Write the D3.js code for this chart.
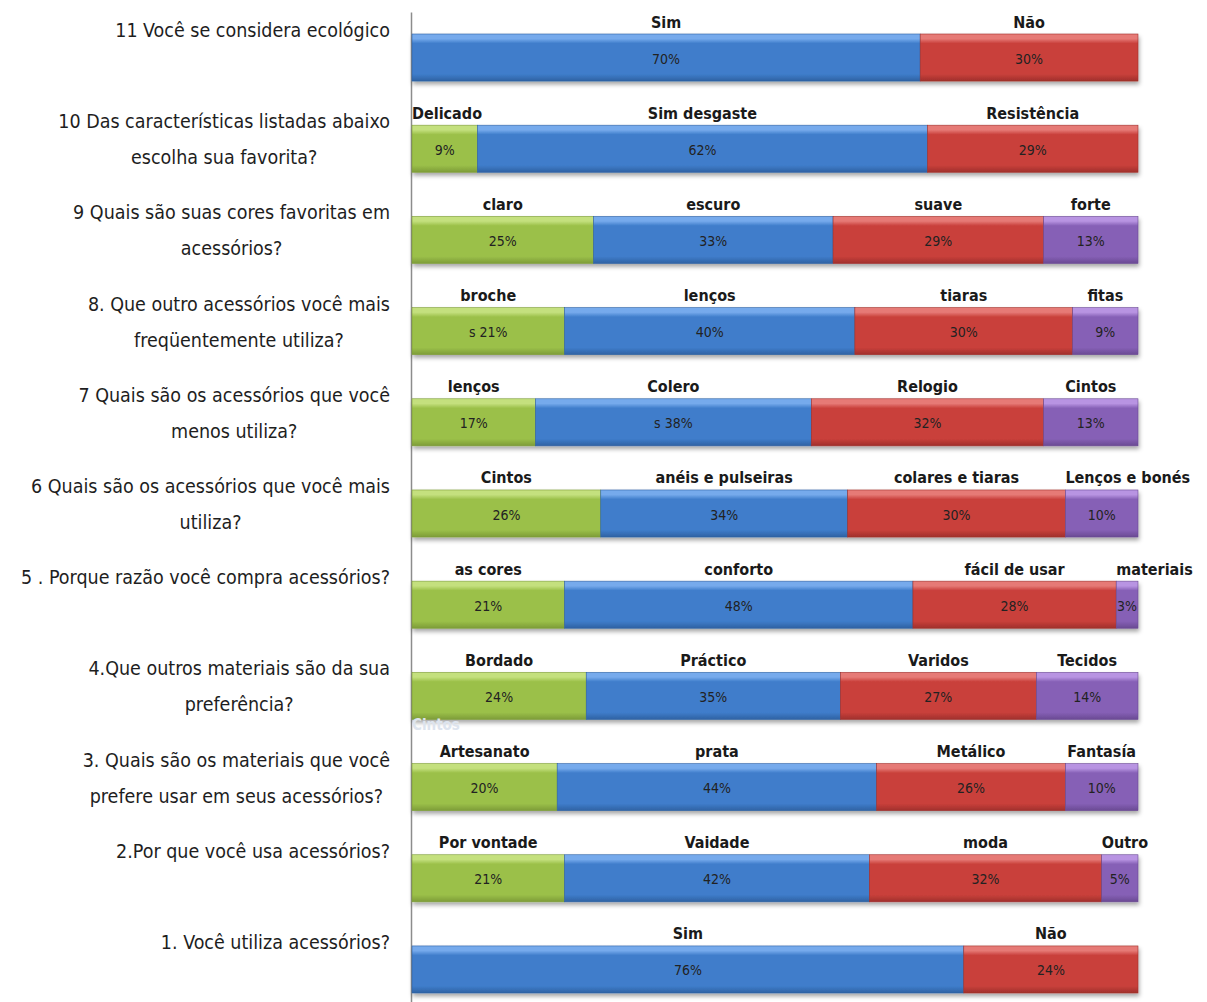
<!DOCTYPE html>
<html>
<head>
<meta charset="utf-8">
<script src="https://cdn.jsdelivr.net/npm/d3@7"></script>
<style>
  body { margin: 0; background: #fff; }
  svg { display: block; }
</style>
</head>
<body>
<div id="chart"></div>
<script>
// Questions, top to bottom
var questions = [
    ['11 Você se considera ecológico'],
    ['10 Das características listadas abaixo', 'escolha sua favorita?'],
    ['9 Quais são suas cores favoritas em', 'acessórios?'],
    ['8. Que outro acessórios  você mais', 'freqüentemente utiliza?'],
    ['7 Quais são os acessórios que você', 'menos utiliza?'],
    ['6 Quais são os acessórios que você mais', 'utiliza?'],
    ['5 . Porque razão você compra acessórios?'],
    ['4.Que outros materiais são da sua', 'preferência?'],
    ['3. Quais são os materiais que você', 'prefere usar em seus acessórios?'],
    ['2.Por que você usa acessórios?'],
    ['1. Você utiliza acessórios?']
];

// Series values (%) per question
var greenValues  = [null, 9, 25, 21, 17, 26, 21, 24, 20, 21, null];
var blueValues   = [70, 62, 33, 40, 38, 34, 48, 35, 44, 42, 76];
var redValues    = [30, 29, 29, 30, 32, 30, 28, 27, 26, 32, 24];
var purpleValues = [null, null, 13, 9, 13, 10, 3, 14, 10, 5, null];

// Answer names shown above each segment
var greenNames  = [null, 'Delicado', 'claro', 'broche', 'lenços', 'Cintos', 'as cores', 'Bordado', 'Artesanato', 'Por vontade', null];
var blueNames   = ['Sim', 'Sim desgaste', 'escuro', 'lenços', 'Colero', 'anéis e pulseiras', 'conforto', 'Práctico', 'prata', 'Vaidade', 'Sim'];
var redNames    = ['Não', 'Resistência', 'suave', 'tiaras', 'Relogio', 'colares e tiaras', 'fácil de usar', 'Varidos', 'Metálico', 'moda', 'Não'];
var purpleNames = [null, null, 'forte', 'fitas', 'Cintos', 'Lenços e bonés', 'materiais', 'Tecidos', 'Fantasía', 'Outro', null];

// Stray text left in the original slide
var strayPrefix = [null, null, null, 's  ', null, null, null, null, null, null, null];
var strayPrefixBlue = [null, null, null, null, 's ', null, null, null, null, null, null];

var width = 1207, height = 1002;
var condensed = '"Liberation Sans Narrow", "DejaVu Sans Condensed", "Arial Narrow", sans-serif';

var series = [
    {key: 'green',  values: greenValues,  names: greenNames,  base: '#9bc049', light: '#c4e07e', dark: '#7d9c38'},
    {key: 'blue',   values: blueValues,   names: blueNames,   base: '#3f7dcb', light: '#76aaec', dark: '#2f62a3'},
    {key: 'red',    values: redValues,    names: redNames,    base: '#c9403b', light: '#e67a76', dark: '#a0302c'},
    {key: 'purple', values: purpleValues, names: purpleNames, base: '#8660b6', light: '#b894e2', dark: '#6a4a93'}
];

var rows = d3.range(questions.length);

// Scales
var x = d3.scaleLinear().domain([0, 100]).range([412, 1138]);
var y = d3.scaleBand().domain(rows).range([34, 993]).paddingInner(0.484).paddingOuter(0);

var svg = d3.select('#chart').append('svg')
    .attr('width', width)
    .attr('height', height);

var defs = svg.append('defs');

// Bevel-like gradients
series.forEach(function(s) {
    var g = defs.append('linearGradient')
        .attr('id', 'grad-' + s.key)
        .attr('x1', 0).attr('x2', 0).attr('y1', 0).attr('y2', 1);
    g.append('stop').attr('offset', '0%').attr('stop-color', s.light);
    g.append('stop').attr('offset', '10%').attr('stop-color', s.light);
    g.append('stop').attr('offset', '20%').attr('stop-color', s.base);
    g.append('stop').attr('offset', '85%').attr('stop-color', s.base);
    g.append('stop').attr('offset', '100%').attr('stop-color', s.dark);
});

var shadow = defs.append('filter')
    .attr('id', 'shadow')
    .attr('x', '-5%').attr('y', '-20%').attr('width', '110%').attr('height', '160%');
shadow.append('feDropShadow')
    .attr('dx', 1).attr('dy', 3)
    .attr('stdDeviation', 2)
    .attr('flood-color', '#000')
    .attr('flood-opacity', 0.35);

// Build stacked segments
var segments = [];
rows.forEach(function(r) {
    var acc = 0;
    series.forEach(function(s) {
        var v = s.values[r];
        if (v == null) return;
        segments.push({row: r, series: s, x0: acc, x1: acc + v, value: v, name: s.names[r]});
        acc += v;
    });
});

// Y axis line (no ticks)
svg.append('g')
    .attr('transform', 'translate(' + (x(0) - 1) + ',0)')
    .call(d3.axisLeft(d3.scaleLinear().range([12, 1002])).ticks(0).tickSizeOuter(0))
    .select('.domain')
    .attr('stroke', '#8c8c8c')
    .attr('stroke-width', 1.5);

// Bars
var rowGroups = svg.append('g').selectAll('g.row')
    .data(rows)
    .enter()
    .append('g')
    .attr('class', 'row')
    .attr('filter', 'url(#shadow)');

rowGroups.selectAll('rect')
    .data(function(r) { return segments.filter(function(d) { return d.row === r; }); })
    .enter()
    .append('rect')
    .attr('x', function(d) { return x(d.x0); })
    .attr('y', function(d) { return y(d.row); })
    .attr('width', function(d) { return x(d.x1) - x(d.x0); })
    .attr('height', y.bandwidth())
    .attr('fill', function(d) { return 'url(#grad-' + d.series.key + ')'; })
    .attr('stroke', function(d) { return d.series.dark; })
    .attr('stroke-width', 0.6);

// Percent labels inside bars
svg.append('g').selectAll('text')
    .data(segments)
    .enter()
    .append('text')
    .attr('x', function(d) { return (x(d.x0) + x(d.x1)) / 2; })
    .attr('y', function(d) { return y(d.row) + y.bandwidth() / 2 + 1; })
    .attr('text-anchor', 'middle')
    .attr('dominant-baseline', 'central')
    .style('font-family', condensed)
    .style('font-size', '14px')
    .attr('fill', '#222')
    .text(function(d) {
        var pre = '';
        if (d.series.key === 'green' && strayPrefix[d.row]) pre = strayPrefix[d.row];
        if (d.series.key === 'blue' && strayPrefixBlue[d.row]) pre = strayPrefixBlue[d.row];
        return pre + d.value + '%';
    });

// Answer names above segments
var names = svg.append('g').selectAll('text')
    .data(segments)
    .enter()
    .append('text')
    .attr('y', function(d) { return y(d.row) - 12; })
    .attr('text-anchor', 'middle')
    .attr('dominant-baseline', 'central')
    .style('font-family', condensed)
    .style('font-size', '16px')
    .style('font-weight', 'bold')
    .attr('fill', '#1a1a1a')
    .text(function(d) { return d.name; });

// Keep short segments' labels from spilling left of their segment
names.attr('x', function(d) {
    var w = this.getComputedTextLength();
    var c = (x(d.x0) + x(d.x1)) / 2;
    return Math.max(c, x(d.x0) + w / 2);
});

// Question labels on the left
var qLabels = svg.append('g').selectAll('text')
    .data(rows)
    .enter()
    .append('text')
    .attr('text-anchor', 'end')
    .style('font-family', condensed)
    .style('font-size', '19.5px')
    .attr('fill', '#1e1e1e');

qLabels.each(function(r) {
    var t = d3.select(this);
    var cy = y(r) + y.bandwidth() / 2;
    questions[r].forEach(function(line, i) {
        t.append('tspan')
            .attr('x', 390)
            .attr('y', cy - 27 + i * 36)
            .attr('dominant-baseline', 'central')
            .attr('text-anchor', i === 0 ? 'end' : 'middle')
            .text(line);
    });
});

// Second lines are centred under the first line
qLabels.each(function() {
    var spans = d3.select(this).selectAll('tspan').nodes();
    if (spans.length < 2) return;
    var w = spans[0].getComputedTextLength();
    d3.select(spans[1]).attr('x', 390 - w / 2);
});

// Faint leftover text under question 4
svg.append('text')
    .attr('x', x(0))
    .attr('y', y(7) + y.bandwidth() + 6)
    .attr('dominant-baseline', 'central')
    .style('font-family', condensed)
    .style('font-size', '15px')
    .style('font-weight', 'bold')
    .attr('fill', '#dde4ee')
    .text('Cintos');
</script>
</body>
</html>
